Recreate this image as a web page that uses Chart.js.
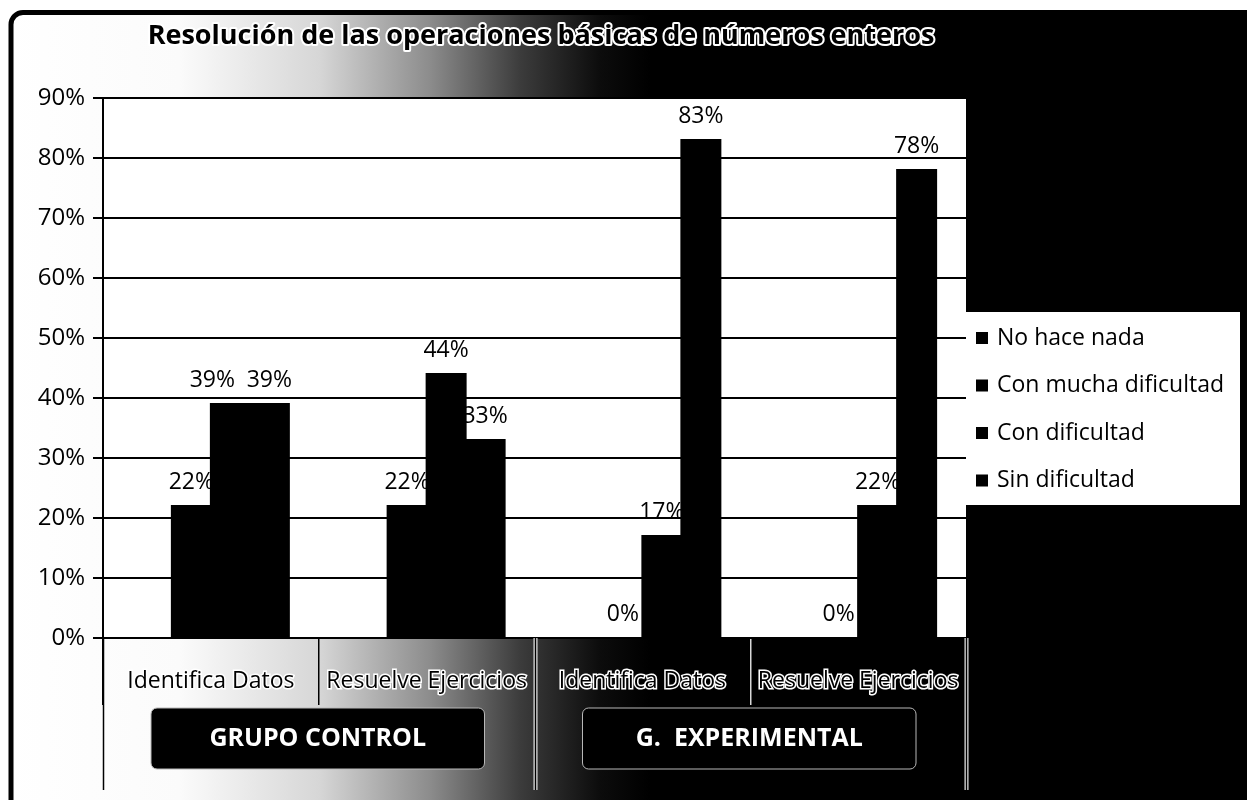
<!DOCTYPE html>
<html>
<head>
<meta charset="utf-8">
<script src="https://cdn.jsdelivr.net/npm/chart.js@4.4.1/dist/chart.umd.min.js"></script>
<style>
  html, body { margin: 0; padding: 0; background: #fff; }
  #wrap { width: 1247px; height: 800px; position: relative; }
  canvas { display: block; }
</style>
</head>
<body>
<div id="wrap"><canvas id="chart" width="1247" height="800"></canvas></div>
<script>
// ---- data ----
const chartTitle = 'Resolución de las operaciones básicas de números enteros';
const categories = ['Identifica Datos', 'Resuelve Ejercicios', 'Identifica Datos', 'Resuelve Ejercicios'];
const groupNames = ['GRUPO CONTROL', 'G.  EXPERIMENTAL'];
const groupSizes = [2, 2];
const seriesNames = ['No hace nada', 'Con mucha dificultad', 'Con dificultad', 'Sin dificultad'];
const noHaceNada = [null, null, null, null];
const conMuchaDificultad = [22, 22, 0, 0];
const conDificultad = [39, 44, 17, 22];
const sinDificultad = [39, 33, 83, 78];
const yTickValues = [0, 10, 20, 30, 40, 50, 60, 70, 80, 90];

const FONT = '"Open Sans", "Noto Sans", sans-serif';
const seriesValues = [noHaceNada, conMuchaDificultad, conDificultad, sinDificultad];
const seriesColors = ['#000', '#000', '#000', '#000'];
// a label that was moved sideways so it does not collide with its neighbour
const labelNudge = { '2-0': -18 };

// ---- background: framed panel fading from white to black, white plot area ----
const backdrop = {
  id: 'backdrop',
  beforeDraw(chart) {
    const { ctx, chartArea: a, width, height } = chart;
    ctx.save();
    ctx.fillStyle = '#fff';
    ctx.fillRect(0, 0, width, height);

    const g = ctx.createLinearGradient(0, 0, width, 0);
    g.addColorStop(0.0, '#ffffff');
    g.addColorStop(180 / width, '#fbfbfb');
    g.addColorStop(320 / width, '#d6d6d6');
    g.addColorStop(430 / width, '#8c8c8c');
    g.addColorStop(520 / width, '#3c3c3c');
    g.addColorStop(600 / width, '#0c0c0c');
    g.addColorStop(650 / width, '#000000');
    g.addColorStop(1.0, '#000000');

    ctx.beginPath();
    ctx.roundRect(11, 12.5, width + 20, height + 20, 12);
    ctx.fillStyle = g;
    ctx.fill();
    ctx.lineWidth = 5;
    ctx.strokeStyle = '#000';
    ctx.stroke();

    // plot area
    ctx.fillStyle = '#fff';
    ctx.fillRect(a.left, a.top, a.right - a.left, a.bottom - a.top);
    ctx.restore();
  }
};

// ---- value labels above each bar ----
const valueLabels = {
  id: 'valueLabels',
  afterDatasetsDraw(chart) {
    const { ctx } = chart;
    ctx.save();
    ctx.font = '23px ' + FONT;
    ctx.fillStyle = '#000';
    ctx.textAlign = 'center';
    ctx.textBaseline = 'alphabetic';
    chart.data.datasets.forEach((ds, di) => {
      const meta = chart.getDatasetMeta(di);
      meta.data.forEach((bar, i) => {
        const v = ds.data[i];
        if (v === null || v === undefined) return;
        const dx = labelNudge[di + '-' + i] || 0;
        ctx.fillText(v + '%', bar.x + dx, bar.y - 17);
      });
    });
    ctx.restore();
  }
};

// ---- outlined text helper ----
function haloText(ctx, text, x, y, halo) {
  ctx.lineJoin = 'round';
  ctx.lineWidth = halo;
  ctx.strokeStyle = '#fff';
  ctx.strokeText(text, x, y);
  ctx.fillStyle = '#000';
  ctx.fillText(text, x, y);
}

// ---- title, group level of the category axis, legend ----
const overlay = {
  id: 'overlay',
  afterDraw(chart) {
    const { ctx, chartArea: a } = chart;
    const xs = chart.scales.x;
    const catW = (a.right - a.left) / categories.length;
    ctx.save();

    // title
    ctx.font = 'bold 27px ' + FONT;
    ctx.textAlign = 'center';
    ctx.textBaseline = 'middle';
    haloText(ctx, chartTitle, 541, 36, 4);

    // group boundaries, running through both label rows
    let start = 0;
    const bounds = [a.left];
    groupSizes.forEach(n => { start += n; bounds.push(xs.getPixelForValue(start - 1) + catW / 2); });
    bounds.forEach((bx, i) => {
      const x = Math.round(bx) + 0.5;
      ctx.beginPath();
      ctx.moveTo(x, a.bottom);
      ctx.lineTo(x, 790);
      if (i > 0) {
        ctx.lineWidth = 4;
        ctx.strokeStyle = '#e6e6e6';
        ctx.stroke();
      }
      ctx.lineWidth = 1.5;
      ctx.strokeStyle = '#000';
      ctx.stroke();
    });

    // group name boxes
    start = 0;
    groupSizes.forEach((n, gi) => {
      const left = xs.getPixelForValue(start) - catW / 2 + 48;
      const right = xs.getPixelForValue(start + n - 1) + catW / 2 - 50;
      start += n;
      ctx.beginPath();
      ctx.roundRect(left, 708, right - left, 61, 6);
      ctx.fillStyle = '#000';
      ctx.fill();
      ctx.lineWidth = 1;
      ctx.strokeStyle = '#b8b8b8';
      ctx.stroke();
      ctx.font = 'bold 25px ' + FONT;
      ctx.fillStyle = '#fff';
      ctx.textAlign = 'center';
      ctx.textBaseline = 'middle';
      ctx.fillText(groupNames[gi], (left + right) / 2, 739);
    });

    // legend
    const lx = a.right, ly = 312, lw = 274, lh = 193;
    ctx.fillStyle = '#fff';
    ctx.fillRect(lx, ly, lw, lh);
    ctx.font = '23px ' + FONT;
    ctx.textAlign = 'left';
    ctx.textBaseline = 'middle';
    seriesNames.forEach((name, i) => {
      const cy = 338 + i * 47.5;
      ctx.fillStyle = seriesColors[i];
      ctx.fillRect(976, cy - 6, 12, 12);
      ctx.fillStyle = '#000';
      ctx.fillText(name, 997, cy);
    });
    ctx.restore();
  }
};

new Chart(document.getElementById('chart'), {
  type: 'bar',
  data: {
    labels: categories,
    datasets: seriesNames.map((name, i) => ({
      label: name,
      data: seriesValues[i],
      backgroundColor: seriesColors[i],
      borderWidth: 0,
      inflateAmount: 1,
      barPercentage: 1.0,
      categoryPercentage: 0.723
    }))
  },
  options: {
    responsive: false,
    animation: false,
    devicePixelRatio: 1,
    layout: { padding: { top: 98, right: 281, bottom: 0, left: 0 } },
    plugins: {
      legend: { display: false },
      title: { display: false },
      tooltip: { enabled: false }
    },
    scales: {
      x: {
        afterFit(scale) { scale.height = 162; },
        grid: {
          display: true,
          drawOnChartArea: false,
          offset: true,
          tickLength: 67,
          lineWidth: 1.5,
          color: ctx => (ctx.index >= 3 ? '#d8d8d8' : '#000')
        },
        border: { display: true, color: '#000', width: 2 },
        ticks: {
          font: { family: FONT, size: 23 },
          color: '#000',
          textStrokeColor: '#fff',
          textStrokeWidth: 3,
          padding: -37,
          maxRotation: 0,
          autoSkip: false
        }
      },
      y: {
        min: 0,
        max: 90,
        afterFit(scale) { scale.width = 103; },
        afterBuildTicks(scale) { scale.ticks = yTickValues.map(v => ({ value: v })); },
        grid: { color: '#000', lineWidth: 2, tickLength: 10, drawTicks: true },
        border: { display: true, color: '#000', width: 2 },
        ticks: {
          font: { family: FONT, size: 24 },
          color: '#000',
          padding: 8,
          callback: v => v + '%'
        }
      }
    }
  },
  plugins: [backdrop, valueLabels, overlay]
});
</script>
</body>
</html>
